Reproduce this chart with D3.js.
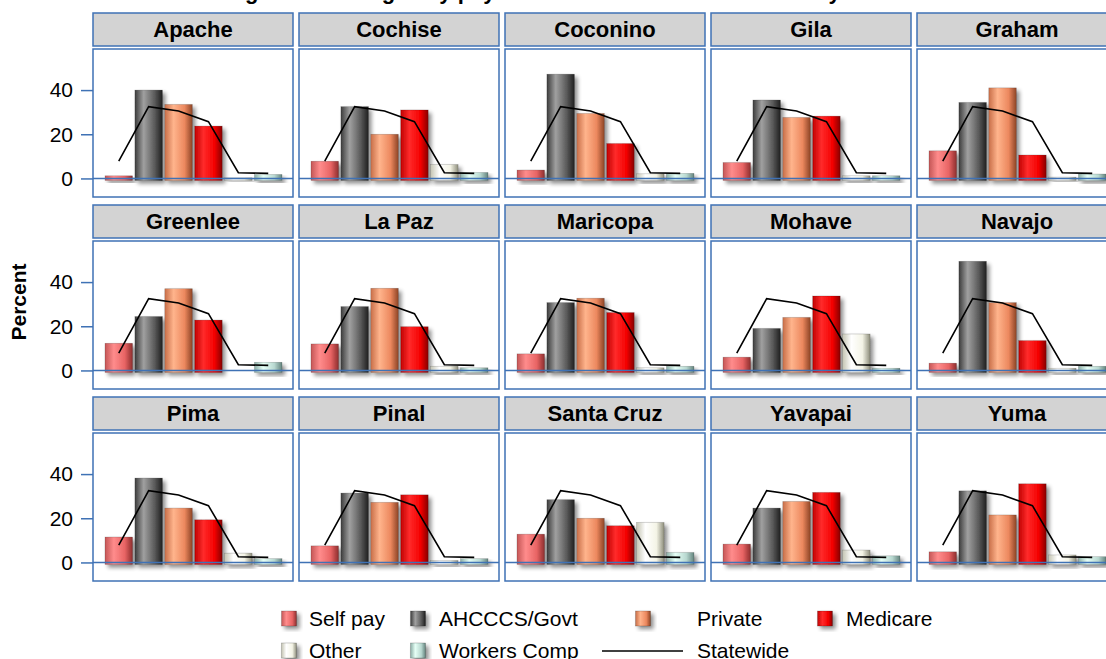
<!DOCTYPE html>
<html>
<head>
<meta charset="utf-8">
<script src="https://cdn.jsdelivr.net/npm/d3@7"></script>
<style>
  body { margin: 0; background: #fff; }
  text { font-family: "Liberation Sans", Arial, sans-serif; }
</style>
</head>
<body>
<div id="chart"></div>
<script>
// facet data: one value per county for each payer series
const counties = ["Apache", "Cochise", "Coconino", "Gila", "Graham",
                  "Greenlee", "La Paz", "Maricopa", "Mohave", "Navajo",
                  "Pima", "Pinal", "Santa Cruz", "Yavapai", "Yuma"];
const payers = ["Self pay", "AHCCCS/Govt", "Private", "Medicare", "Other", "Workers Comp"];

const selfPay     = [1.2, 7.8, 3.8, 7.2, 12.5, 12.3, 12.0, 7.5, 6.0, 3.3, 11.5, 7.5, 12.8, 8.3, 4.8];
const ahcccs      = [40.0, 32.5, 47.2, 35.5, 34.4, 24.4, 28.9, 30.7, 19.0, 49.4, 38.2, 31.4, 28.4, 24.6, 32.4];
const privateIns  = [33.5, 20.0, 29.4, 27.6, 41.0, 37.0, 37.2, 32.7, 24.0, 30.7, 24.6, 27.2, 20.0, 27.6, 21.5];
const medicare    = [23.7, 31.0, 15.8, 28.2, 10.6, 22.8, 19.8, 26.2, 33.7, 13.5, 19.3, 30.6, 16.6, 31.7, 35.6];
const other       = [0.3, 6.3, 2.1, 1.2, 0.6, 0.0, 1.9, 1.2, 16.5, 1.0, 4.2, 0.9, 18.1, 5.6, 3.4];
const workersComp = [1.8, 2.7, 2.3, 1.2, 2.0, 3.7, 1.2, 1.9, 1.0, 1.9, 1.7, 1.7, 4.5, 3.0, 2.6];

const statewide = [7.8, 32.5, 30.5, 25.7, 2.6, 2.3];
const yTicks = [0, 20, 40];

const series = [selfPay, ahcccs, privateIns, medicare, other, workersComp];

// cylinder-like shading for each payer: left edge, highlight, body, right edge
const shades = [
  ["#c45656", "#ff8c8c", "#e86464", "#8e2e2e"],
  ["#3c3c3c", "#a0a0a0", "#5a5a5a", "#1e1e1e"],
  ["#c86e48", "#ffb48c", "#ec885e", "#8e4426"],
  ["#c00000", "#ff2a2a", "#f40000", "#880000"],
  ["#c4c4b2", "#ffffff", "#f4f4e6", "#8e8e7c"],
  ["#8caea6", "#e6fff6", "#b8d8d0", "#64847e"]
];

const width = 1106, height = 659;
const panelW = 200, panelH = 148, stripH = 33;
const colStep = 206, rowStep = 192;
const left0 = 93, stripTop0 = 13, panelTop0 = 49;
const blue = "#3f72b5";

const svg = d3.select("#chart").append("svg")
    .attr("width", width)
    .attr("height", height);

const defs = svg.append("defs");

shades.forEach((s, i) => {
  const g = defs.append("linearGradient")
      .attr("id", "grad" + i)
      .attr("x1", "0%").attr("x2", "100%")
      .attr("y1", "0%").attr("y2", "0%");
  g.append("stop").attr("offset", "0%").attr("stop-color", s[0]);
  g.append("stop").attr("offset", "32%").attr("stop-color", s[1]);
  g.append("stop").attr("offset", "72%").attr("stop-color", s[2]);
  g.append("stop").attr("offset", "100%").attr("stop-color", s[3]);
});

const shadow = defs.append("filter")
    .attr("id", "shadow")
    .attr("x", "-30%").attr("y", "-30%")
    .attr("width", "170%").attr("height", "170%");
shadow.append("feGaussianBlur").attr("in", "SourceAlpha").attr("stdDeviation", 2.2);
shadow.append("feOffset").attr("dx", 3).attr("dy", 3).attr("result", "off");
shadow.append("feComponentTransfer")
  .append("feFuncA").attr("type", "linear").attr("slope", 0.45);
const merge = shadow.append("feMerge");
merge.append("feMergeNode");
merge.append("feMergeNode").attr("in", "SourceGraphic");

// scales shared by every panel
const x = d3.scaleBand()
    .domain(payers)
    .range([12, panelW - 11])
    .paddingInner(0.08);

const y = d3.scaleLinear()
    .domain([-8.4, 58.6])
    .range([panelH, 0]);

const line = d3.line()
    .x((d, i) => x(payers[i]) + x.bandwidth() / 2)
    .y(d => y(d));

// title (cut off at the top edge, only descenders show)
svg.append("text")
    .attr("x", 152)
    .attr("y", -1)
    .style("font-size", "22px")
    .style("font-weight", "bold")
    .text("Percentage of discharges by payer source in each Arizona county");

counties.forEach((name, ci) => {
  const col = ci % 5, row = Math.floor(ci / 5);
  const px = left0 + col * colStep;

  // strip
  const strip = svg.append("g")
      .attr("transform", `translate(${px},${stripTop0 + row * rowStep})`);
  strip.append("rect")
      .attr("width", panelW).attr("height", stripH)
      .attr("fill", "#d3d3d3")
      .attr("stroke", blue).attr("stroke-width", 1.5);
  strip.append("text")
      .attr("x", panelW / 2).attr("y", stripH / 2 + 7.5)
      .attr("text-anchor", "middle")
      .style("font-size", "22px")
      .style("font-weight", "bold")
      .text(name);

  const g = svg.append("g")
      .attr("transform", `translate(${px},${panelTop0 + row * rowStep})`);

  g.append("rect")
      .attr("width", panelW).attr("height", panelH)
      .attr("fill", "#fff");

  const vals = series.map(s => s[ci]);

  g.selectAll(".bar")
    .data(vals)
    .enter().append("rect")
      .attr("class", "bar")
      .attr("x", (d, i) => x(payers[i]))
      .attr("y", d => y(d))
      .attr("width", x.bandwidth())
      .attr("height", d => y(0) - y(d) + 2)
      .attr("fill", (d, i) => `url(#grad${i})`)
      .attr("stroke", "rgba(0,0,0,0.25)")
      .attr("stroke-width", 0.6)
      .attr("filter", "url(#shadow)")
      .style("display", d => d > 0 ? null : "none");

  // zero reference line
  g.append("line")
      .attr("x1", 0).attr("x2", panelW)
      .attr("y1", y(0)).attr("y2", y(0))
      .attr("stroke", blue).attr("stroke-width", 1.5);

  g.append("path")
      .datum(statewide)
      .attr("d", line)
      .attr("fill", "none")
      .attr("stroke", "#000")
      .attr("stroke-width", 1.6);

  g.append("rect")
      .attr("width", panelW).attr("height", panelH)
      .attr("fill", "none")
      .attr("stroke", blue).attr("stroke-width", 1.5);

  if (col === 0) {
    const ax = g.append("g")
        .call(d3.axisLeft(y).tickValues(yTicks).tickSize(12).tickPadding(8));
    ax.select(".domain").remove();
    ax.selectAll(".tick line").attr("stroke", blue).attr("stroke-width", 1.5);
    ax.selectAll(".tick text")
        .attr("fill", "#000")
        .style("font-size", "21px")
        .style("font-family", "'Liberation Sans', Arial, sans-serif");
  }
});

// y axis title
svg.append("text")
    .attr("transform", "translate(26,302) rotate(-90)")
    .attr("text-anchor", "middle")
    .style("font-size", "21px")
    .style("font-weight", "bold")
    .text("Percent");

// legend
const legendItems = payers.concat(["Statewide"]);
const legTextX = [309, 439, 697, 846];
const legSymX = [289, 418, 643, 825];
const legRowY = [619, 651];

const legend = svg.append("g");
legendItems.forEach((name, i) => {
  const c = i % 4, r = Math.floor(i / 4);
  const cy = legRowY[r];
  if (i < payers.length) {
    legend.append("rect")
        .attr("x", legSymX[c] - 7.5).attr("y", cy - 8)
        .attr("width", 15).attr("height", 15)
        .attr("fill", `url(#grad${i})`)
        .attr("stroke", "rgba(0,0,0,0.3)")
        .attr("stroke-width", 0.6)
        .attr("filter", "url(#shadow)");
  } else {
    legend.append("line")
        .attr("x1", 602).attr("x2", 683)
        .attr("y1", cy).attr("y2", cy)
        .attr("stroke", "#000").attr("stroke-width", 1.6);
  }
  legend.append("text")
      .attr("x", legTextX[c]).attr("y", cy + 7)
      .style("font-size", "21px")
      .text(name);
});
</script>
</body>
</html>
